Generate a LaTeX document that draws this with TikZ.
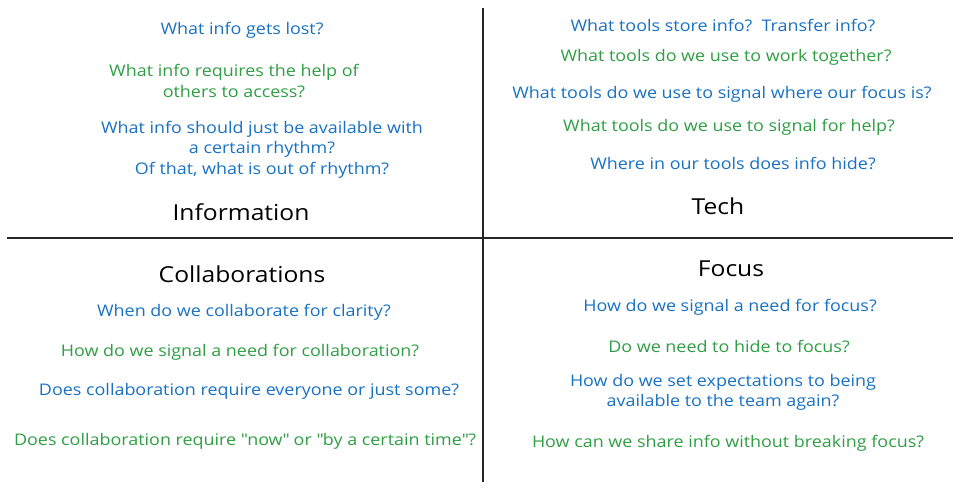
\documentclass[tikz,border=0pt]{standalone}
\usepackage{fontspec}
\setmainfont{Open Sans}[FakeStretch=1.12]
\usetikzlibrary{positioning}
\definecolor{askblue}{HTML}{1971C2}
\definecolor{askgreen}{HTML}{2F9E44}
\tikzset{
  question/.style={align=center, inner sep=0pt, on grid,
    font=\fontsize{16}{20.5}\selectfont},
  blueq/.style={question, text=askblue},
  greenq/.style={question, text=askgreen},
  quadtitle/.style={inner sep=0pt, on grid, font=\fontsize{22}{24}\selectfont},
  divider/.style={line width=2pt, black!85}
}
\begin{document}
\begin{tikzpicture}[x=1pt, y=1pt]
  \useasboundingbox (0,0) rectangle (960,488);
  % Dividers
  \coordinate (vtop) at (483,480);
  \coordinate (vbot) at (483,6);
  \coordinate (hleft) at (7,250);
  \coordinate (hright) at (953,250);
  \draw[divider] (vtop) -- (vbot);
  \draw[divider] (hleft) -- (hright);
  % Information
  \node (lost) [blueq] at (242,458) {What info gets lost?};
  \node (helpq) [greenq, below = 51 of lost, xshift=-8pt]
    {What info requires the help of\\others to access?};
  \node (rhythm) [blueq, below = 68.5 of helpq, xshift=28pt]
    {What info should just be available with\\a certain rhythm?\\Of that, what is out of rhythm?};
  \node (infotitle) [quadtitle, below = 62.5 of rhythm, xshift=-21pt] {Information};
  % Tech
  \node (store) [blueq] at (723,463) {What tools store info?\ \ Transfer info?};
  \node (together) [greenq, below = 32 of store, xshift=3pt]
    {What tools do we use to work together?};
  \node (focusis) [blueq, below = 37 of together, xshift=-4pt]
    {What tools do we use to signal where our focus is?};
  \node (helpsig) [greenq, below = 33 of focusis, xshift=7pt]
    {What tools do we use to signal for help?};
  \node (hide) [blueq, below = 36 of helpsig, xshift=4pt]
    {Where in our tools does info hide?};
  \node (techtitle) [quadtitle, below = 43 of hide, xshift=-15pt] {Tech};
  % Collaborations
  \node (collabtitle) [quadtitle] at (242,214) {Collaborations};
  \node (clarity) [blueq, below = 38 of collabtitle, xshift=2pt]
    {When do we collaborate for clarity?};
  \node (needcollab) [greenq, below = 40 of clarity, xshift=-4pt]
    {How do we signal a need for collaboration?};
  \node (everyone) [blueq, below = 39 of needcollab, xshift=9pt]
    {Does collaboration require everyone or just some?};
  \node (now) [greenq, below = 50 of everyone, xshift=-4pt]
    {Does collaboration require \textquotedbl now\textquotedbl{} or \textquotedbl by a certain time\textquotedbl?};
  % Focus
  \node (focustitle) [quadtitle] at (731,219) {Focus};
  \node (needfocus) [blueq, below = 38 of focustitle, xshift=-1pt]
    {How do we signal a need for focus?};
  \node (hidefocus) [greenq, below = 39 of needfocus, xshift=-1pt]
    {Do we need to hide to focus?};
  \node (expect) [blueq, below = 46.5 of hidefocus, xshift=-6pt]
    {How do we set expectations to being\\available to the team again?};
  \node (share) [greenq, below = 50.5 of expect, xshift=5pt]
    {How can we share info without breaking focus?};
\end{tikzpicture}
\end{document}
